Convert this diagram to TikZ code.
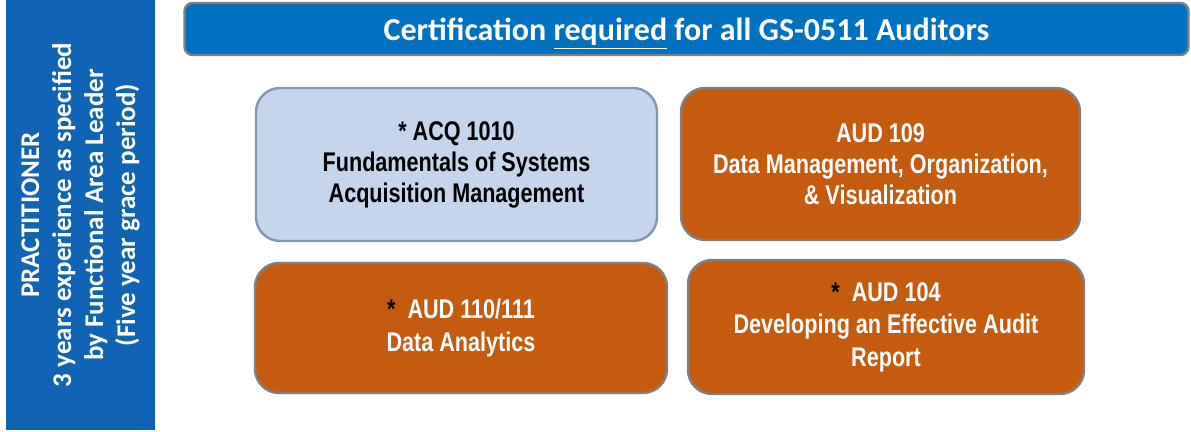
\documentclass[tikz,border=0pt]{standalone}
\usepackage{fontspec}
\setmainfont{Liberation Sans}
\newfontfamily\boxfont[FakeStretch=0.8]{Liberation Sans}
\newfontfamily\headfont{Carlito}
\definecolor{PanelColor}{rgb}{0.067,0.392,0.710}
\definecolor{TitleColor}{rgb}{0.0,0.439,0.753}
\definecolor{CoreColor}{rgb}{0.780,0.835,0.925}
\definecolor{CoreBorder}{rgb}{0.518,0.592,0.690}
\definecolor{CourseColor}{rgb}{0.773,0.353,0.067}
\definecolor{CourseBorder}{rgb}{0.5,0.5,0.5}
\tikzstyle{course-base}=[rectangle,
                             rounded corners=12pt,
                             line width=1.2pt,
                             align=center,
                             font=\boxfont\bfseries\fontsize{13.5}{15.5}\selectfont,
                            ]
\tikzstyle{core}=[course-base,
                                  draw={CoreBorder},
                                  fill={CoreColor},
                                  text=black]
\tikzstyle{elective}=[course-base,
                                  draw={CourseBorder},
                                  fill={CourseColor},
                                  text=white]

\begin{document}
\begin{tikzpicture}[x=0.5pt, y=-0.5pt]
\useasboundingbox (0,0) rectangle (1191,432);
\node at (80.5, 215) (panel) [rectangle, fill=PanelColor, minimum width=74.5pt, minimum height=215pt] {};
\node at (80.5, 215) (panel_text) [rotate=90, align=center, text=white, font=\headfont\bfseries\fontsize{13.5}{16}\selectfont]
  {PRACTITIONER\\3 years experience as specified\\by Functional Area Leader\\(Five year grace period)};

\node at (686.5, 29) (title) [rectangle, rounded corners=4pt, draw=CourseBorder, line width=1.2pt, fill=TitleColor,
  minimum width=502pt, minimum height=26pt, inner ysep=0pt, text=white, font=\headfont\bfseries\fontsize{16}{18}\selectfont]
  {\raisebox{0pt}[\height][0pt]{Certification \underline{required} for all GS-0511 Auditors}};

\node at (456.5, 164.5) (acq1010) [core, minimum width=200.5pt, minimum height=76.5pt] {* ACQ 1010\\Fundamentals of Systems\\Acquisition Management};
\node at (880.5, 164)   (aud109)  [elective, minimum width=199.5pt, minimum height=76pt] {AUD 109\\Data Management, Organization,\\\& Visualization};
\node at (461, 328)     (aud110)  [elective, minimum width=206pt, minimum height=65pt, font=\boxfont\bfseries\fontsize{13.5}{16.5}\selectfont] {\textcolor{black}{*}\ \ AUD 110/111\\Data Analytics};
\node at (886, 327)     (aud104)  [elective, minimum width=198pt, minimum height=67pt, font=\boxfont\bfseries\fontsize{13.5}{16.25}\selectfont] {\textcolor{black}{*}\ \ AUD 104\\Developing an Effective Audit\\Report};
\end{tikzpicture}
\end{document}
